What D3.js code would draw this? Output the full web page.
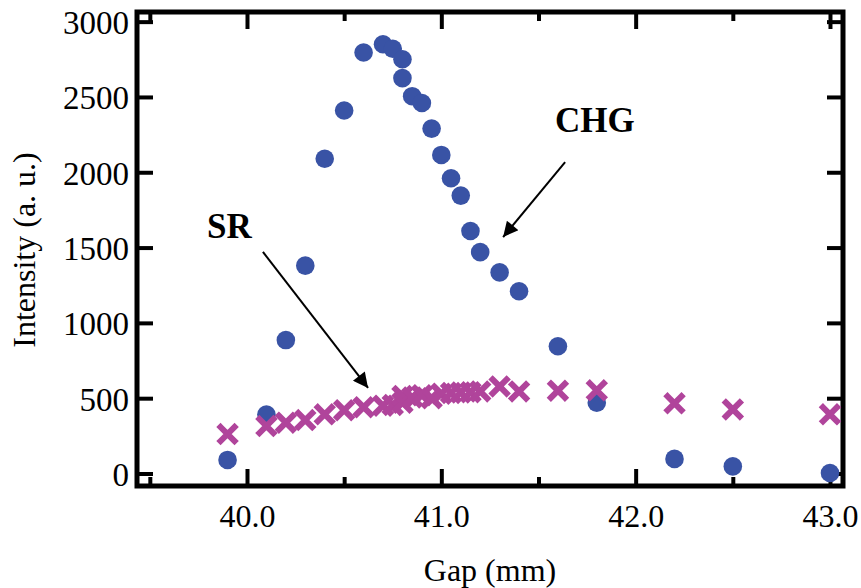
<!DOCTYPE html>
<html>
<head>
<meta charset="utf-8">
<script src="https://cdn.jsdelivr.net/npm/d3@7"></script>
<style>
  html, body { margin: 0; padding: 0; background: #fff; }
  svg { display: block; }
  svg text { font-family: "Liberation Serif", "Times New Roman", serif; fill: #000; }
</style>
</head>
<body>
<svg id="chart" width="861" height="588"></svg>
<script>
// ---- data ----
const chgGap = [39.9, 40.1, 40.2, 40.3, 40.4, 40.5, 40.6, 40.7, 40.75, 40.8, 40.8, 40.85, 40.9, 40.95, 41.0, 41.05, 41.1, 41.15, 41.2, 41.3, 41.4, 41.6, 41.8, 42.2, 42.5, 43.0];
const chgIntensity = [90, 392, 886, 1380, 2090, 2410, 2795, 2850, 2820, 2750, 2625, 2505, 2460, 2290, 2115, 1960, 1845, 1610, 1470, 1335, 1210, 845, 470, 97, 47, 3];
const srGap = [39.9, 40.1, 40.2, 40.3, 40.4, 40.5, 40.6, 40.7, 40.75, 40.8, 40.8, 40.85, 40.9, 40.95, 41.0, 41.05, 41.1, 41.15, 41.2, 41.3, 41.4, 41.6, 41.8, 42.2, 42.5, 43.0];
const srIntensity = [262, 315, 337, 355, 393, 420, 440, 450, 455, 515, 470, 505, 520, 500, 530, 535, 538, 540, 545, 578, 545, 550, 552, 466, 425, 393];
const xMajorTicks = [40, 41, 42, 43];
const xMinorTicks = [39.5, 40.5, 41.5, 42.5];
const yTicks = [0, 500, 1000, 1500, 2000, 2500, 3000];
const xTitle = "Gap (mm)";
const yTitle = "Intensity (a. u.)";
const annotations = [
  { label: "CHG", tx: 41.585, ty: 2268, x1: 41.637, y1: 2068, x2: 41.318, y2: 1570 },
  { label: "SR",  tx: 39.794, ty: 1564, x1: 40.082, y1: 1471, x2: 40.623, y2: 568 }
];

// ---- layout ----
const L = 137, R = 843, T = 12, B = 486;
const FONT = '"Liberation Serif", "Times New Roman", serif';
const svg = d3.select("#chart");
const x = d3.scaleLinear().domain([39.434, 43.067]).range([L, R]);
const y = d3.scaleLinear().domain([-83, 3064]).range([B, T]);

const blue = "#3953a5";
const magenta = "#b0449b";

// axes (ticks inward)
const gBottom = svg.append("g").attr("transform", `translate(0,${B})`)
  .call(d3.axisBottom(x).tickValues(xMajorTicks).tickSize(-17).tickPadding(18).tickFormat(d3.format(".1f")));
const gBottomMinor = svg.append("g").attr("transform", `translate(0,${B})`)
  .call(d3.axisBottom(x).tickValues(xMinorTicks).tickSize(-9).tickFormat(""));
const gTop = svg.append("g").attr("transform", `translate(0,${T})`)
  .call(d3.axisTop(x).tickValues(xMajorTicks).tickSize(-17).tickFormat(""));
const gTopMinor = svg.append("g").attr("transform", `translate(0,${T})`)
  .call(d3.axisTop(x).tickValues(xMinorTicks).tickSize(-9).tickFormat(""));
const gLeft = svg.append("g").attr("transform", `translate(${L},0)`)
  .call(d3.axisLeft(y).tickValues(yTicks).tickSize(-16).tickPadding(8).tickFormat(d3.format("d")));
const gRight = svg.append("g").attr("transform", `translate(${R},0)`)
  .call(d3.axisRight(y).tickValues(yTicks).tickSize(-16).tickFormat(""));

[gBottom, gBottomMinor, gTop, gTopMinor, gLeft, gRight].forEach(g => {
  g.attr("font-family", FONT).attr("font-size", 32);
  g.select(".domain").remove();
  g.selectAll(".tick line").attr("stroke", "#000").attr("stroke-width", 4);
  g.selectAll(".tick text").attr("fill", "#000");
});
gLeft.attr("font-size", 33);
gLeft.selectAll(".tick text").attr("dy", "0.36em");

// frame
svg.append("rect").attr("x", L).attr("y", T).attr("width", R - L).attr("height", B - T)
  .attr("fill", "none").attr("stroke", "#000").attr("stroke-width", 5);

// axis titles
svg.append("text").attr("x", (L + R) / 2).attr("y", 581)
  .attr("text-anchor", "middle").attr("font-family", FONT).attr("font-size", 32).text(xTitle);
svg.append("text").attr("transform", `translate(35,${(T + B) / 2 + 1}) rotate(-90)`)
  .attr("text-anchor", "middle").attr("font-family", FONT).attr("font-size", 32).text(yTitle);

// CHG circles
svg.append("g").selectAll("circle")
  .data(chgGap.map((g, i) => [g, chgIntensity[i]]))
  .join("circle")
  .attr("cx", d => x(d[0])).attr("cy", d => y(d[1])).attr("r", 9.3)
  .attr("fill", blue);

// SR crosses
const cs = 7;
svg.append("g").selectAll("path")
  .data(srGap.map((g, i) => [g, srIntensity[i]]))
  .join("path")
  .attr("transform", d => `translate(${x(d[0])},${y(d[1])})`)
  .attr("d", `M${-cs},${-cs}L${cs},${cs}M${-cs},${cs}L${cs},${-cs}`)
  .attr("stroke", magenta).attr("stroke-width", 6).attr("stroke-linecap", "square")
  .attr("fill", "none");

// annotations
svg.append("defs").append("marker").attr("id", "arrow")
  .attr("viewBox", "0 0 10 10").attr("refX", 10).attr("refY", 5)
  .attr("markerWidth", 9).attr("markerHeight", 7.5).attr("markerUnits", "strokeWidth")
  .attr("orient", "auto")
  .append("path").attr("d", "M0,0L10,5L0,10Z").attr("fill", "#000");

annotations.forEach(a => {
  svg.append("text").attr("x", x(a.tx)).attr("y", y(a.ty))
    .attr("font-family", FONT).attr("font-size", 35).attr("font-weight", "bold").text(a.label);
  svg.append("line")
    .attr("x1", x(a.x1)).attr("y1", y(a.y1)).attr("x2", x(a.x2)).attr("y2", y(a.y2))
    .attr("stroke", "#000").attr("stroke-width", 2).attr("marker-end", "url(#arrow)");
});
</script>
</body>
</html>
